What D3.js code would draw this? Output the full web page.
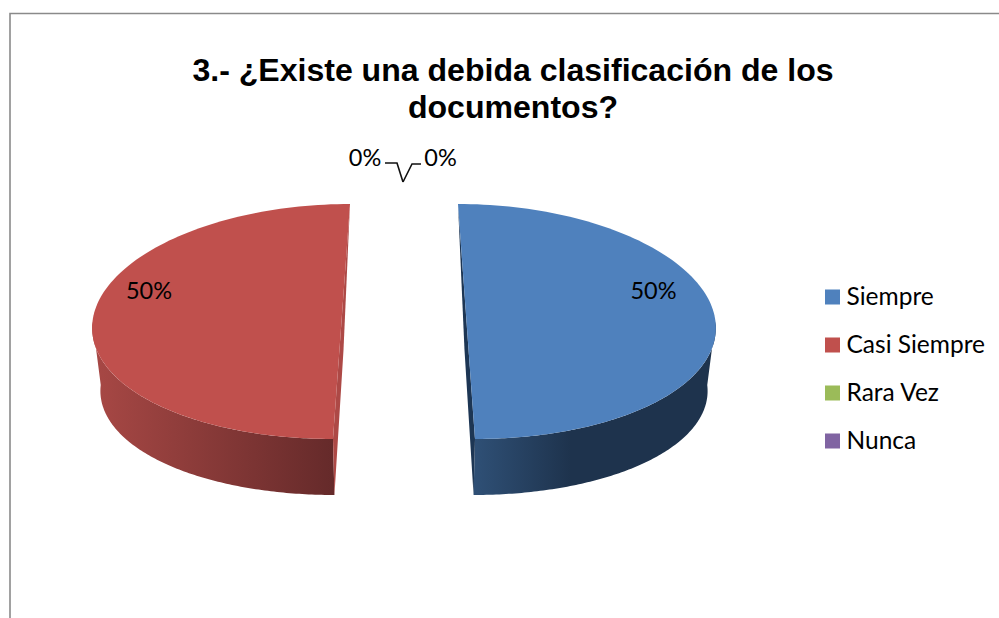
<!DOCTYPE html>
<html><head><meta charset="utf-8">
<script src="https://cdn.jsdelivr.net/npm/d3@7"></script>
<style>html,body{margin:0;padding:0;background:#fff}svg{display:block}</style>
</head><body><svg id="c" width="999" height="618"></svg>
<script>
const titleLines = ["3.- ¿Existe una debida clasificación de los", "documentos?"];
const categories = ["Siempre", "Casi Siempre", "Rara Vez", "Nunca"];
const values = [50, 50, 0, 0];
const colors = ["#4f81bd", "#c0504d", "#9bbb59", "#8064a2"];
const wallStops = [
  [[0, "#2f5076"], [0.4, "#1e334d"], [1, "#1e334d"]],
  [[0, "#a84845"], [1, "#652a2a"]]
];
const sliver = ["#1d3654", "#ad4946"];

const W = 999, H = 618;
const svg = d3.select("#c");
const sans = "'Liberation Sans',Arial,sans-serif";
const body = "Lato,'Open Sans',sans-serif";

// frame
svg.append("path").attr("fill", "none").attr("stroke", "#8a8a8a").attr("stroke-width", 1.6)
  .attr("d", d3.line()([[10, H], [10, 13.5], [W, 13.5]]));

// title
svg.append("g").selectAll("text").data(titleLines).join("text")
  .attr("x", 513).attr("y", (d, i) => 80.5 + i * 37.5)
  .attr("text-anchor", "middle").attr("font-family", sans)
  .attr("font-weight", "bold").attr("font-size", 32.05).attr("fill", "#000").text(d => d);

// pie projection: keystone perspective, lower rim smaller than upper rim
const cx = 404, cy = 321.5, explode = 62.5;
const levels = [
  { rx: 249, ry: 117.5, yc: cy, scale: 1 },
  { rx: 242, ry: 110, yc: cy + 63.5, scale: 0.98 }
];
const kExplode = 0.136, kRim = 0.02;
function pt(a, side, lvl) {
  const L = levels[lvl], c = -Math.cos(a);
  return [
    cx + side * explode * (1 + kExplode * c) * L.scale + L.rx * Math.sin(a) * (1 + kRim * c),
    L.yc + L.ry * c
  ];
}
function samples(a0, a1) { return d3.range(0, 121).map(i => a0 + (a1 - a0) * i / 120); }

const pie = d3.pie().sort(null);
const arcs = pie(values);
const defs = svg.append("defs");
const line = d3.line();

arcs.forEach((d, i) => {
  if (d.value === 0) return;
  const mid = (d.startAngle + d.endAngle) / 2;
  const side = Math.sign(Math.sin(mid));
  const g = svg.append("g");

  // front wall
  const lo = Math.max(d.startAngle, Math.PI / 2), hi = Math.min(d.endAngle, 3 * Math.PI / 2);
  const wall = samples(lo, hi);
  const upper = wall.map(a => pt(a, side, 0));
  const lower = wall.map(a => pt(a, side, 1));
  const xs = upper.concat(lower).map(p => p[0]);
  const gid = "wall" + i;
  const grad = defs.append("linearGradient").attr("id", gid).attr("gradientUnits", "userSpaceOnUse")
    .attr("x1", d3.min(xs)).attr("x2", d3.max(xs)).attr("y1", 0).attr("y2", 0);
  wallStops[i].forEach(s => grad.append("stop").attr("offset", s[0]).attr("stop-color", s[1]));
  g.append("path").attr("fill", `url(#${gid})`)
    .attr("d", line(upper.concat(lower.reverse())) + "Z");

  // cut face seen edge-on, its outer edge slightly bowed
  const back = side > 0 ? d.startAngle : d.endAngle;
  const front = side > 0 ? d.endAngle : d.startAngle;
  const bend = [cx + side * explode * (1 + kExplode * 0.243) * 0.937, cy + 28.5];
  g.append("path").attr("fill", sliver[i])
    .attr("d", line([pt(back, side, 0), pt(front, side, 0), pt(front, side, 1), bend]) + "Z");

  // top face
  g.append("path").attr("fill", colors[i])
    .attr("d", line(samples(d.startAngle, d.endAngle).map(a => pt(a, side, 0))) + "Z");
});

// data labels
const lab = svg.append("g").attr("font-family", body).attr("font-size", 23.5).attr("fill", "#000");
const pctX = [653.5, 149, 365, 440.5], pctY = [299, 299, 166, 166];
values.forEach((v, i) => {
  lab.append("text").attr("x", pctX[i]).attr("y", pctY[i]).attr("text-anchor", "middle").text(v + "%");
});

// leader lines for the empty slices
const leaders = [[[385, 163], [397, 163], [403, 182]], [[421, 164], [412, 164], [403, 182]]];
svg.append("g").attr("fill", "none").attr("stroke", "#111").attr("stroke-width", 1.6)
  .selectAll("path").data(leaders).join("path").attr("d", d => line(d));

// legend
const ly = d3.scalePoint().domain(categories).range([297, 441]);
const leg = svg.append("g").selectAll("g").data(categories).join("g")
  .attr("transform", d => `translate(825,${ly(d)})`);
leg.append("rect").attr("y", -7.5).attr("width", 15).attr("height", 15).attr("fill", (d, i) => colors[i]);
leg.append("text").attr("x", 21.5).attr("y", 8).attr("font-family", body).attr("font-size", 24.5).attr("fill", "#000").text(d => d);
</script></body></html>
